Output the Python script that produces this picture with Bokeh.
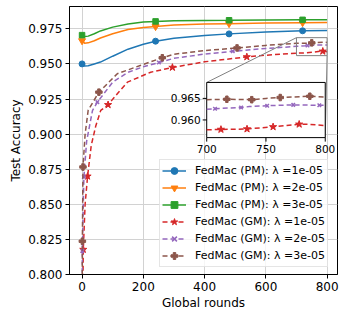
from math import pi
from bokeh.plotting import figure
from bokeh.models import Range1d, Legend, LegendItem, FixedTicker, NumeralTickFormatter
from bokeh.core.properties import value
from bokeh.embed import file_html
from bokeh.resources import INLINE

# ---------------- data ----------------
x_ticks = [0, 200, 400, 600, 800]
y_ticks = [0.800, 0.825, 0.850, 0.875, 0.900, 0.925, 0.950, 0.975]

# personalized models (PM)
pm_rounds = [0, 8, 20, 40, 60, 100, 150, 200, 240, 300, 400, 480, 600, 720, 800]
pm_1e5 = [0.9500, 0.9485, 0.9487, 0.9500, 0.9513, 0.9555, 0.9605, 0.9640, 0.9662,
          0.9683, 0.9702, 0.9714, 0.9727, 0.9736, 0.9738]
pm_2e5 = [0.9665, 0.9648, 0.9650, 0.9665, 0.9685, 0.9715, 0.9745, 0.9760, 0.9766,
          0.9778, 0.9784, 0.9787, 0.9791, 0.9794, 0.9795]
pm_3e5 = [0.9705, 0.9695, 0.9698, 0.9715, 0.9735, 0.9762, 0.9785, 0.9798, 0.9803,
          0.9808, 0.9810, 0.9811, 0.9813, 0.9814, 0.9814]
pm_marks = [0, 8, 11, 13]

# global models (GM)
gm1_rounds = [0, 4, 10, 18, 30, 45, 61, 85, 120, 148, 224, 295, 400, 538, 600,
              700, 712, 734, 756, 778, 786, 800]
gm_1e5 = [0.740, 0.8178, 0.850, 0.870, 0.892, 0.906, 0.9169, 0.9209, 0.930, 0.937,
          0.9441, 0.9475, 0.9515, 0.9550, 0.9562, 0.9577, 0.9578, 0.9579, 0.9584,
          0.9590, 0.9590, 0.9587]
gm1_marks = [1, 3, 7, 11, 13, 20]
gm1_inset_marks = [16, 17, 18, 19]

gm2_rounds = [0, 1, 6, 15, 34, 50, 100, 150, 200, 251, 300, 400, 492, 600, 700,
              707, 729, 736, 751, 773, 795, 800]
gm_2e5 = [0.750, 0.8168, 0.8694, 0.895, 0.9168, 0.9228, 0.937, 0.944, 0.948, 0.951,
          0.9540, 0.9570, 0.9590, 0.9610, 0.9625, 0.9626, 0.9629, 0.9631, 0.9633,
          0.9635, 0.9634, 0.9634]
gm2_marks = [1, 2, 5, 9, 12, 17]
gm2_inset_marks = [15, 16, 18, 19, 20]

gm3_rounds = [0, 1, 3, 10, 20, 55, 115, 190, 262, 300, 400, 506, 600, 700, 717,
              738, 750, 762, 787, 800]
gm_3e5 = [0.760, 0.8237, 0.8766, 0.900, 0.917, 0.9299, 0.943, 0.9489, 0.9544,
          0.9569, 0.9595, 0.9614, 0.9632, 0.9647, 0.9648, 0.9647, 0.9650, 0.9652,
          0.9655, 0.9653]
gm3_marks = [1, 2, 5, 8, 11, 16]
gm3_inset_marks = [14, 15, 17, 18]

labels = ["FedMac (PM): λ =1e-05", "FedMac (PM): λ =2e-05", "FedMac (PM): λ =3e-05",
          "FedMac (GM): λ =1e-05", "FedMac (GM): λ =2e-05", "FedMac (GM): λ =3e-05"]

# inset (zoomed region) and where it sits in the main axes
inset_x = (700, 800)
inset_y = (0.9559, 0.9687)
inset_xticks = [700, 750, 800]
inset_xtick_labels = ["700", "750", "800"]
inset_yticks = [0.960, 0.965]
inset_ytick_labels = ["0.960", "0.965"]
inset_target_x = (407, 794)
inset_target_y = (0.8975, 0.9368)

FONT = "DejaVu Sans"
DASH = "5 3"

# ---------------- figure ----------------
p = figure(frame_width=268, frame_height=268,
           x_range=Range1d(-41, 834), y_range=Range1d(0.8, 0.9909),
           output_backend="svg", toolbar_location=None,
           min_border_left=69, min_border_right=9, min_border_top=6,
           min_border_bottom=44)
p.background_fill_color = "white"
p.border_fill_color = "white"
p.outline_line_color = "black"
p.outline_line_width = 1

p.xaxis.ticker = FixedTicker(ticks=x_ticks)
p.yaxis.ticker = FixedTicker(ticks=y_ticks)
p.yaxis.formatter = NumeralTickFormatter(format="0.000")
for ax in (p.xaxis[0], p.yaxis[0]):
    ax.major_tick_in = 0
    ax.major_tick_out = 4
    ax.minor_tick_line_color = None
    ax.major_tick_line_color = "black"
    ax.axis_line_color = "black"
    ax.major_label_text_font = FONT
    ax.major_label_text_font_size = "12px"
    ax.major_label_text_color = "black"
    ax.major_label_standoff = 3
    ax.axis_label_text_font = FONT
    ax.axis_label_text_font_size = "12px"
    ax.axis_label_text_font_style = "normal"
    ax.axis_label_text_color = "black"
p.xaxis.axis_label = "Global rounds"
p.yaxis.axis_label = "Test Accuracy"
p.xaxis.axis_label_standoff = 2
p.yaxis.axis_label_standoff = 2
p.grid.grid_line_color = "#d2d2d2"
p.grid.grid_line_width = 1

items = []
pm_specs = [(pm_1e5, "#1f77b4", "circle", 6),
            (pm_2e5, "#ff7f0e", "inverted_triangle", 7),
            (pm_3e5, "#2ca02c", "square", 5.5)]
for (ys, color, marker, size), label in zip(pm_specs, labels[:3]):
    r1 = p.line(pm_rounds, ys, line_color=color, line_width=1.5)
    r2 = p.scatter([pm_rounds[i] for i in pm_marks], [ys[i] for i in pm_marks],
                   marker=marker, size=size, fill_color=color, line_color=color)
    items.append(LegendItem(label=label, renderers=[r1, r2]))

gm_specs = [(gm1_rounds, gm_1e5, gm1_marks, gm1_inset_marks, "#d62728", "star", 7.5),
            (gm2_rounds, gm_2e5, gm2_marks, gm2_inset_marks, "#9467bd", "x", 5),
            (gm3_rounds, gm_3e5, gm3_marks, gm3_inset_marks, "#8c564b", "plus", 6.5)]
for (xs, ys, mk, _, color, marker, size), label in zip(gm_specs, labels[3:]):
    r1 = p.line(xs, ys, line_color=color, line_width=1.5, line_dash=DASH)
    r2 = p.scatter([xs[i] for i in mk], [ys[i] for i in mk], marker=marker, size=size,
                   fill_color=color, line_color=color, line_width=1.5 if marker == "x" else 1)
    items.append(LegendItem(label=label, renderers=[r1, r2]))

# zoom box + connectors
p.quad(left=[inset_x[0]], right=[inset_x[1]], bottom=[inset_y[0]], top=[inset_y[1]],
       fill_color=None, line_color="#808080", line_width=1)
p.segment(x0=[inset_x[0], inset_x[1]], y0=[inset_y[1], inset_y[0]],
          x1=[inset_target_x[0], inset_target_x[1]], y1=[inset_target_y[1], inset_target_y[0]],
          line_color="#808080", line_width=1)

# inset
sub = p.subplot(x_source=Range1d(*inset_x), y_source=Range1d(*inset_y),
                x_target=Range1d(*inset_target_x), y_target=Range1d(*inset_target_y))
sub.quad(left=[inset_x[0]], right=[inset_x[1]], bottom=[inset_y[0]], top=[inset_y[1]],
         fill_color="white", line_color="black", line_width=1)
for xs, ys, _, imk, color, marker, size in gm_specs:
    sel = [i for i, x in enumerate(xs) if inset_x[0] <= x <= inset_x[1]]
    sub.line([xs[i] for i in sel], [ys[i] for i in sel], line_color=color,
             line_width=1.5, line_dash=DASH)
    sub.scatter([xs[i] for i in imk], [ys[i] for i in imk], marker=marker, size=size,
                fill_color=color, line_color=color, line_width=1.5 if marker == "x" else 1)
sub.ray(x=inset_xticks, y=[inset_y[0]] * len(inset_xticks), length=4,
        length_units="screen", angle=-pi / 2, line_color="black", line_width=1)
sub.ray(x=[inset_x[0]] * len(inset_yticks), y=inset_yticks, length=4,
        length_units="screen", angle=pi, line_color="black", line_width=1)
sub.text(x=inset_xticks, y=[inset_y[0]] * len(inset_xticks), text=inset_xtick_labels,
         text_align="center", text_baseline="top", y_offset=7,
         text_font=value(FONT), text_font_size="10.5px", text_color="black")
sub.text(x=[inset_x[0]] * len(inset_yticks), y=inset_yticks, text=inset_ytick_labels,
         text_align="right", text_baseline="middle", x_offset=-6,
         text_font=value(FONT), text_font_size="10.5px", text_color="black")

legend = Legend(items=items, location=(90, 7))
legend.label_text_font = FONT
legend.label_text_font_size = "11px"
legend.label_text_color = "black"
legend.glyph_width = 24
legend.glyph_height = 17
legend.label_height = 17
legend.label_standoff = 9
legend.spacing = 0
legend.padding = 2
legend.margin = 0
legend.border_line_color = "#cccccc"
legend.border_line_width = 1
legend.background_fill_alpha = 0.8
p.add_layout(legend)

open("out.html", "w").write(file_html(p, INLINE))
